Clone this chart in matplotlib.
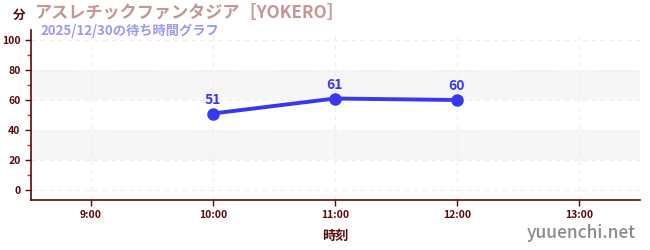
import numpy as np
import matplotlib
matplotlib.use("Agg")
import matplotlib.pyplot as plt
from matplotlib.ticker import FixedLocator, FuncFormatter

plt.rcParams['font.family'] = ['Noto Sans CJK JP', 'DejaVu Sans']

# -----------------------------
# data
# -----------------------------
hours = [10, 11, 12]
waits = [51, 61, 60]
tick_hours = [9, 10, 11, 12, 13]
title = "アスレチックファンタジア［YOKERO］"
subtitle = "2025/12/30の待ち時間グラフ"

dark = "#5a0a0a"
blue = "#3838f0"

fig = plt.figure(figsize=(6.5, 2.5), dpi=100)
ax = fig.add_axes([31 / 650, 0.2, 609 / 650, 0.68])

# gray bands
for lo, hi in [(20, 40), (60, 80)]:
    ax.axhspan(lo, hi, color="#f6f6f6", zorder=0, lw=0)

ax.plot(hours, waits, color=blue, lw=2.8, marker="o", ms=8, zorder=3)
for h, w in zip(hours, waits):
    ax.annotate(str(w), (h, w), xytext=(0, 5), textcoords="offset points",
                ha="center", va="bottom", color=blue, fontsize=10, fontweight="bold")

ax.set_xlim(8.51, 13.5)
ax.set_ylim(-6.7, 106.7)
ax.xaxis.set_major_locator(FixedLocator(tick_hours))
ax.xaxis.set_major_formatter(FuncFormatter(lambda v, p: f"{int(v)}:00"))
ax.yaxis.set_major_locator(FixedLocator([0, 20, 40, 60, 80, 100]))
ax.yaxis.set_minor_locator(FixedLocator([10, 30, 50, 70, 90]))

ax.grid(True, which="major", color="#ededed", ls=(0, (4, 4)), lw=0.8)
ax.set_axisbelow(True)
for s in ["top", "right"]:
    ax.spines[s].set_visible(False)
for s in ["left", "bottom"]:
    ax.spines[s].set_color(dark)
    ax.spines[s].set_linewidth(1.2)

ax.tick_params(axis="both", which="major", colors=dark, labelsize=7.5, length=4, width=1)
ax.tick_params(axis="y", which="minor", colors="#dd2222", length=3, width=1)
for lbl in ax.get_xticklabels() + ax.get_yticklabels():
    lbl.set_fontweight("bold")

ax.set_xlabel("時刻", color=dark, fontsize=9.5, fontweight="bold", labelpad=6)

fig.text(13 / 650, 1 - 15 / 250, "分", color=dark, fontsize=9, fontweight="bold", ha="left", va="center")
fig.text(34 / 650, 1 - 13 / 250, title, color="#c89595", fontsize=12.3, fontweight="bold",
         ha="left", va="center")
fig.text(40 / 650, 1 - 31 / 250, subtitle, color="#9a9af0", fontsize=9.5, fontweight="bold",
         ha="left", va="center")
fig.text(636 / 650, 1 - 233 / 250, "yuuenchi.net", color="#8a8a8a", fontsize=12.5,
         fontweight="medium", ha="right", va="center")

fig.savefig("out.png", dpi=100)
